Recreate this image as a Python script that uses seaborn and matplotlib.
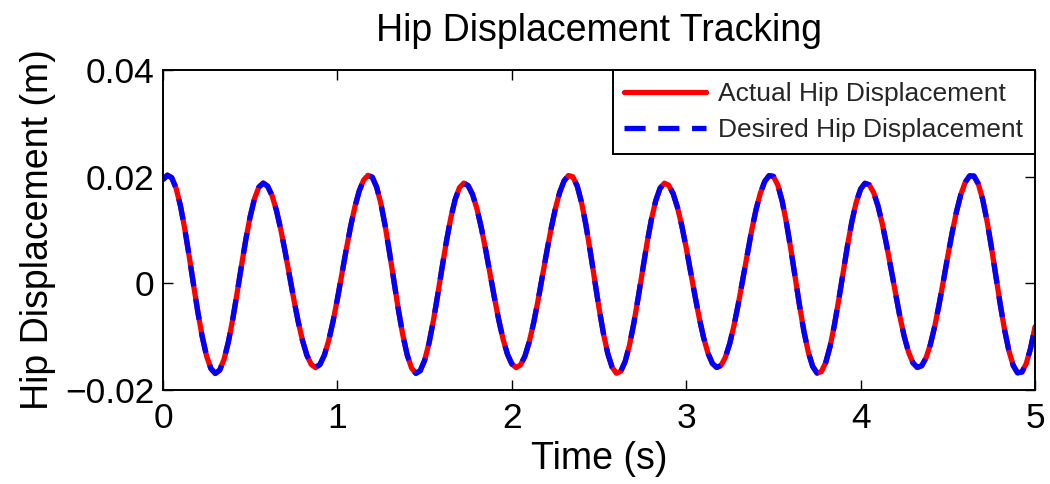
import numpy as np
import pandas as pd
import matplotlib
matplotlib.use("Agg")
import matplotlib.pyplot as plt
import seaborn as sns

# Time samples (s), 0 to 5 every 0.025 s
time_s = [round(i * 0.025, 3) for i in range(201)]

# Desired hip displacement (m)
desired_disp = [
    0.01943, 0.02028, 0.01981, 0.01784, 0.01455, 0.01018, 0.00512, -0.00024, -0.00542, -0.01001,
    -0.01365, -0.01600, -0.01690, -0.01628, -0.01425, -0.01097, -0.00671, -0.00181, 0.00331, 0.00824,
    0.01254, 0.01592, 0.01806, 0.01880, 0.01821, 0.01648, 0.01373, 0.01015, 0.00598, 0.00150,
    -0.00298, -0.00715, -0.01073, -0.01348, -0.01521, -0.01580, -0.01521, -0.01349, -0.01074, -0.00715,
    -0.00294, 0.00160, 0.00619, 0.01053, 0.01430, 0.01732, 0.01934, 0.02025, 0.01990, 0.01805,
    0.01485, 0.01058, 0.00554, 0.00021, -0.00503, -0.00967, -0.01341, -0.01587, -0.01688, -0.01638,
    -0.01446, -0.01127, -0.00707, -0.00221, 0.00291, 0.00784, 0.01223, 0.01570, 0.01795, 0.01879,
    0.01830, 0.01666, 0.01399, 0.01046, 0.00633, 0.00186, -0.00263, -0.00684, -0.01047, -0.01330,
    -0.01511, -0.01580, -0.01530, -0.01367, -0.01099, -0.00745, -0.00330, 0.00124, 0.00582, 0.01019,
    0.01403, 0.01711, 0.01922, 0.02022, 0.01998, 0.01826, 0.01515, 0.01094, 0.00595, 0.00063,
    -0.00462, -0.00934, -0.01314, -0.01572, -0.01686, -0.01648, -0.01466, -0.01156, -0.00743, -0.00261,
    0.00247, 0.00746, 0.01192, 0.01546, 0.01782, 0.01878, 0.01838, 0.01683, 0.01423, 0.01077,
    0.00667, 0.00222, -0.00227, -0.00652, -0.01021, -0.01311, -0.01501, -0.01578, -0.01539, -0.01383,
    -0.01125, -0.00776, -0.00366, 0.00087, 0.00548, 0.00985, 0.01376, 0.01689, 0.01909, 0.02019,
    0.02006, 0.01845, 0.01545, 0.01131, 0.00639, 0.00105, -0.00420, -0.00900, -0.01288, -0.01557,
    -0.01682, -0.01656, -0.01485, -0.01185, -0.00779, -0.00304, 0.00207, 0.00709, 0.01159, 0.01522,
    0.01768, 0.01876, 0.01846, 0.01700, 0.01448, 0.01107, 0.00702, 0.00259, -0.00192, -0.00619,
    -0.00994, -0.01291, -0.01490, -0.01577, -0.01546, -0.01400, -0.01148, -0.00808, -0.00398, 0.00049,
    0.00511, 0.00950, 0.01346, 0.01668, 0.01895, 0.02014, 0.02012, 0.01863, 0.01574, 0.01167,
    0.00680, 0.00147, -0.00380, -0.00863, -0.01261, -0.01540, -0.01678, -0.01663, -0.01504, -0.01213,
    -0.00816,
]
# Actual hip displacement (m): tracks the desired curve visually exactly
actual_disp = list(desired_disp)

series_names = ["Actual Hip Displacement", "Desired Hip Displacement"]
x_ticks = [0, 1, 2, 3, 4, 5]
x_tick_labels = ["0", "1", "2", "3", "4", "5"]
y_ticks = [-0.02, 0, 0.02, 0.04]
y_tick_labels = ["\u22120.02", "0", "0.02", "0.04"]

df = pd.DataFrame({
    "Time": time_s * 2,
    "Disp": actual_disp + desired_disp,
    "Series": [series_names[0]] * len(time_s) + [series_names[1]] * len(time_s),
})

sns.set_theme(style="white")
plt.rcParams["font.family"] = ["Liberation Sans", "DejaVu Sans"]
plt.rcParams["axes.unicode_minus"] = True

fig = plt.figure(figsize=(10.5, 4.84), dpi=100)
ax = fig.add_axes([163 / 1050, 1 - 390 / 484, (1035 - 163) / 1050, (390 - 70) / 484])

sns.lineplot(
    data=df, x="Time", y="Disp", hue="Series", style="Series",
    palette={series_names[0]: "#ff0000", series_names[1]: "#0000ff"},
    dashes={series_names[0]: "", series_names[1]: (4, 2.4)},
    linewidth=3.8, ax=ax, sort=False, estimator=None,
)

ax.set_xlim(0, 5)
ax.set_ylim(-0.02, 0.04)
ax.set_xticks(x_ticks)
ax.set_xticklabels(x_tick_labels)
ax.set_yticks(y_ticks)
ax.set_yticklabels(y_tick_labels)

for side in ["left", "right", "top", "bottom"]:
    ax.spines[side].set_visible(True)
    ax.spines[side].set_color("black")
    ax.spines[side].set_linewidth(1.4)

ax.tick_params(axis="both", which="both", direction="in", length=7, width=1.0,
               colors="black", labelsize=25.5, top=True, right=True,
               bottom=True, left=True, pad=6)
ax.tick_params(axis="x", pad=9)

ax.set_xlabel("Time (s)", fontsize=27, color="black", labelpad=4)
ax.set_ylabel("Hip Displacement (m)", fontsize=27, color="black", labelpad=7)
ax.set_title("Hip Displacement Tracking", fontsize=27, color="black", pad=21)

leg = ax.legend(loc="upper right", fontsize=19, frameon=True, fancybox=False,
                edgecolor="black", framealpha=1, borderaxespad=0.0,
                handlelength=3.1, handletextpad=0.45, borderpad=0.45,
                labelspacing=0.45)
leg.get_frame().set_linewidth(1.4)
for line in leg.get_lines():
    line.set_linewidth(3.8)

fig.savefig("out.png", dpi=100, facecolor="white")
